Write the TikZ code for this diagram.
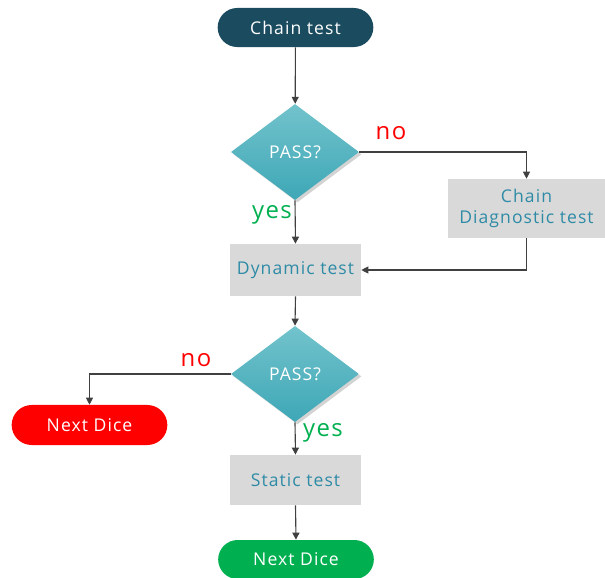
\documentclass[tikz,border=0pt]{standalone}
\usepackage{fontspec}
\setmainfont{Open Sans}[LetterSpace=6]
\usepackage{xcolor}
\usepackage{tikz}
\usetikzlibrary{positioning, arrows.meta, shapes.geometric, shapes.misc, shadows}

\definecolor{chainteal}{HTML}{1B4B5F}
\definecolor{boxgray}{HTML}{D9D9D9}
\definecolor{boxtext}{HTML}{2E8BA6}
\definecolor{diamtop}{HTML}{72C3CC}
\definecolor{diambot}{HTML}{3EA7B6}
\definecolor{passgreen}{HTML}{00B050}
\definecolor{linegray}{HTML}{404040}

\tikzset{
  pill/.style={rounded rectangle, minimum width=4.125cm, minimum height=0.975cm,
    text=white, font=\fontsize{12.5}{15}\selectfont},
  testbox/.style={rectangle, fill=boxgray, text=boxtext, align=center,
    font=\fontsize{12.5}{15.5}\selectfont},
  decision/.style={diamond, aspect=1.33, inner sep=0pt, minimum width=3.2cm,
    minimum height=2.4cm, top color=diamtop, bottom color=diambot, text=white,
    font=\fontsize{12.5}{15}\selectfont,
    drop shadow={opacity=0.35, shadow xshift=0.6mm, shadow yshift=-0.6mm}},
  nolabel/.style={text=red, font=\fontsize{17}{20}\selectfont},
  yeslabel/.style={text=passgreen, font=\fontsize{17}{20}\selectfont},
  flow/.style={draw=linegray, line width=0.8pt}
}

\begin{document}
\begin{tikzpicture}[x=0.025cm, y=-0.025cm, >={Triangle[width=5pt,length=5pt]}]
  \useasboundingbox (0,0) rectangle (605,578);
  % Nodes
  \node[pill, fill=chainteal] (chain) at (295.5,27.5) {Chain test};
  \node[decision] (pass1) at (295,152) {PASS?};
  \node[testbox, minimum width=3.925cm, minimum height=1.475cm] (diag) at (526.5,208.5) {Chain\\Diagnostic test};
  \node[testbox, minimum width=3.275cm, minimum height=1.3cm] (dyn) at (295.5,270) {Dynamic test};
  \node[decision] (pass2) at (295,374) {PASS?};
  \node[pill, fill=red, minimum height=1cm] (nextred) at (89.5,425) {Next Dice};
  \node[testbox, minimum width=3.25cm, minimum height=1.25cm] (static) at (295.5,480) {Static test};
  \node[pill, fill=passgreen] (nextgreen) at (296,559.5) {Next Dice};
  % Labels
  \node[nolabel] (no1) at (391,133) {no};
  \node[yeslabel] (yes1) at (272,215) {yes};
  \node[nolabel] (no2) at (196,360) {no};
  \node[yeslabel] (yes2) at (323,433) {yes};
  % Connectors
  \draw[flow, ->] (chain) -- (pass1);
  \draw[flow, ->] (pass1.east) -| (diag.north);
  \draw[flow, ->] (diag.south) |- (dyn.east);
  \draw[flow, ->] (pass1.south) -- (dyn.north);
  \draw[flow, ->] (dyn.south) -- (pass2.north);
  \draw[flow, ->] (pass2.west) -| (nextred.north);
  \draw[flow, ->] (pass2.south) -- (static.north);
  \draw[flow, ->] (static.south) -- (nextgreen.north);
\end{tikzpicture}
\end{document}
